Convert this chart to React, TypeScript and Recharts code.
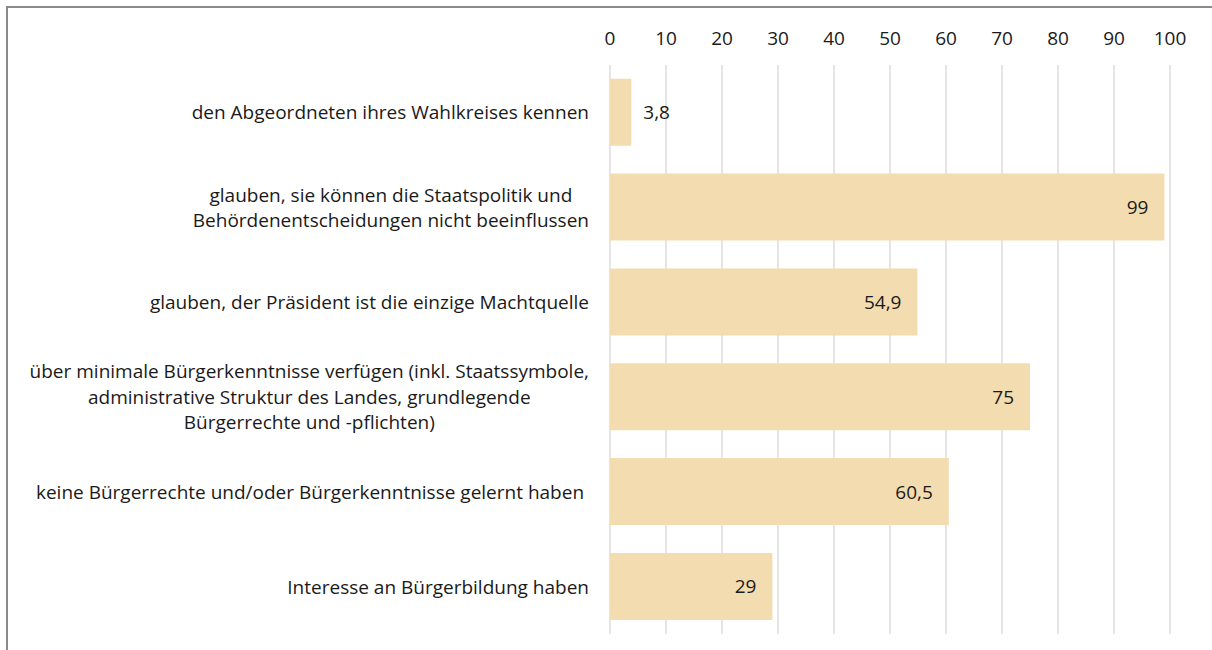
import React from "react";
import { BarChart, Bar, XAxis, YAxis, CartesianGrid, LabelList } from "recharts";

const categories: string[] = [
  "den Abgeordneten ihres Wahlkreises kennen",
  "glauben, sie können die Staatspolitik und\nBehördenentscheidungen nicht beeinflussen",
  "glauben, der Präsident ist die einzige Machtquelle",
  "über minimale Bürgerkenntnisse verfügen (inkl. Staatssymbole,\nadministrative Struktur des Landes, grundlegende\nBürgerrechte und -pflichten)",
  "keine Bürgerrechte und/oder Bürgerkenntnisse gelernt haben ",
  "Interesse an Bürgerbildung haben",
];
const values: number[] = [3.8, 99, 54.9, 75, 60.5, 29];
const xTicks: number[] = [0, 10, 20, 30, 40, 50, 60, 70, 80, 90, 100];

const data = categories.map((c, i) => ({ name: c, value: values[i] }));

const FONT = '"Open Sans", sans-serif';
const FS = 19;
const LINE_H = 25.5;

let ctx: CanvasRenderingContext2D | null = null;
function measure(s: string): number {
  if (!ctx) {
    const c = document.createElement("canvas");
    ctx = c.getContext("2d");
  }
  if (!ctx) return s.length * 9;
  ctx.font = `${FS}px "Open Sans"`;
  return ctx.measureText(s).width;
}

const YTick = (props: any) => {
  const { x, y, payload } = props;
  const lines: string[] = String(payload.value).split("\n");
  const maxW = Math.max(...lines.map((l) => measure(l)));
  const right = x;
  const cx = lines.length > 1 ? right - maxW / 2 : right;
  const anchor = lines.length > 1 ? "middle" : "end";
  const startY = y - ((lines.length - 1) * LINE_H) / 2;
  return (
    <g>
      {lines.map((l, i) => (
        <text
          key={i}
          x={cx}
          y={startY + i * LINE_H}
          textAnchor={anchor}
          dominantBaseline="central"
          fontFamily={FONT}
          fontSize={FS}
          fill="#1a1a1a"
          style={{ whiteSpace: "pre" }}
        >
          {l}
        </text>
      ))}
    </g>
  );
};

const ValueLabel = (props: any) => {
  const { x, y, width, height, value } = props;
  const inside = width > 40;
  const tx = inside ? x + width - 16 : x + width + 12;
  return (
    <text
      x={tx}
      y={y + height / 2}
      textAnchor={inside ? "end" : "start"}
      dominantBaseline="central"
      fontFamily={FONT}
      fontSize={FS}
      fill="#1a1a1a"
    >
      {String(value).replace(".", ",")}
    </text>
  );
};

export default function App() {
  return (
    <div style={{ position: "absolute", left: 0, top: 0, width: 1212, height: 650, background: "#fff", overflow: "hidden" }}>
      <div
        style={{
          position: "absolute",
          left: 6,
          top: 6,
          width: 1300,
          height: 700,
          borderLeft: "2px solid #8a8a8a",
          borderTop: "2px solid #8a8a8a",
        }}
      />
      <div style={{ position: "absolute", left: 0, top: 0 }}>
        <BarChart
          width={1212}
          height={650}
          data={data}
          layout="vertical"
          margin={{ top: 25, right: 42, bottom: 16, left: 0 }}
          barCategoryGap="14.5%"
        >
          <CartesianGrid horizontal={false} vertical={true} stroke="#dcdcdc" strokeWidth={1.5} />
          <XAxis
            type="number"
            orientation="top"
            domain={[0, 100]}
            ticks={xTicks}
            axisLine={false}
            tickLine={false}
            height={40}
            tickMargin={14}
            tick={{ fontFamily: FONT, fontSize: FS, fill: "#1a1a1a" }}
            interval={0}
          />
          <YAxis
            type="category"
            dataKey="name"
            width={610}
            axisLine={false}
            tickLine={false}
            tickMargin={15}
            tick={<YTick />}
            interval={0}
          />
          <Bar dataKey="value" fill="#F2DCB0" isAnimationActive={false}>
            <LabelList dataKey="value" content={<ValueLabel />} />
          </Bar>
        </BarChart>
      </div>
    </div>
  );
}
